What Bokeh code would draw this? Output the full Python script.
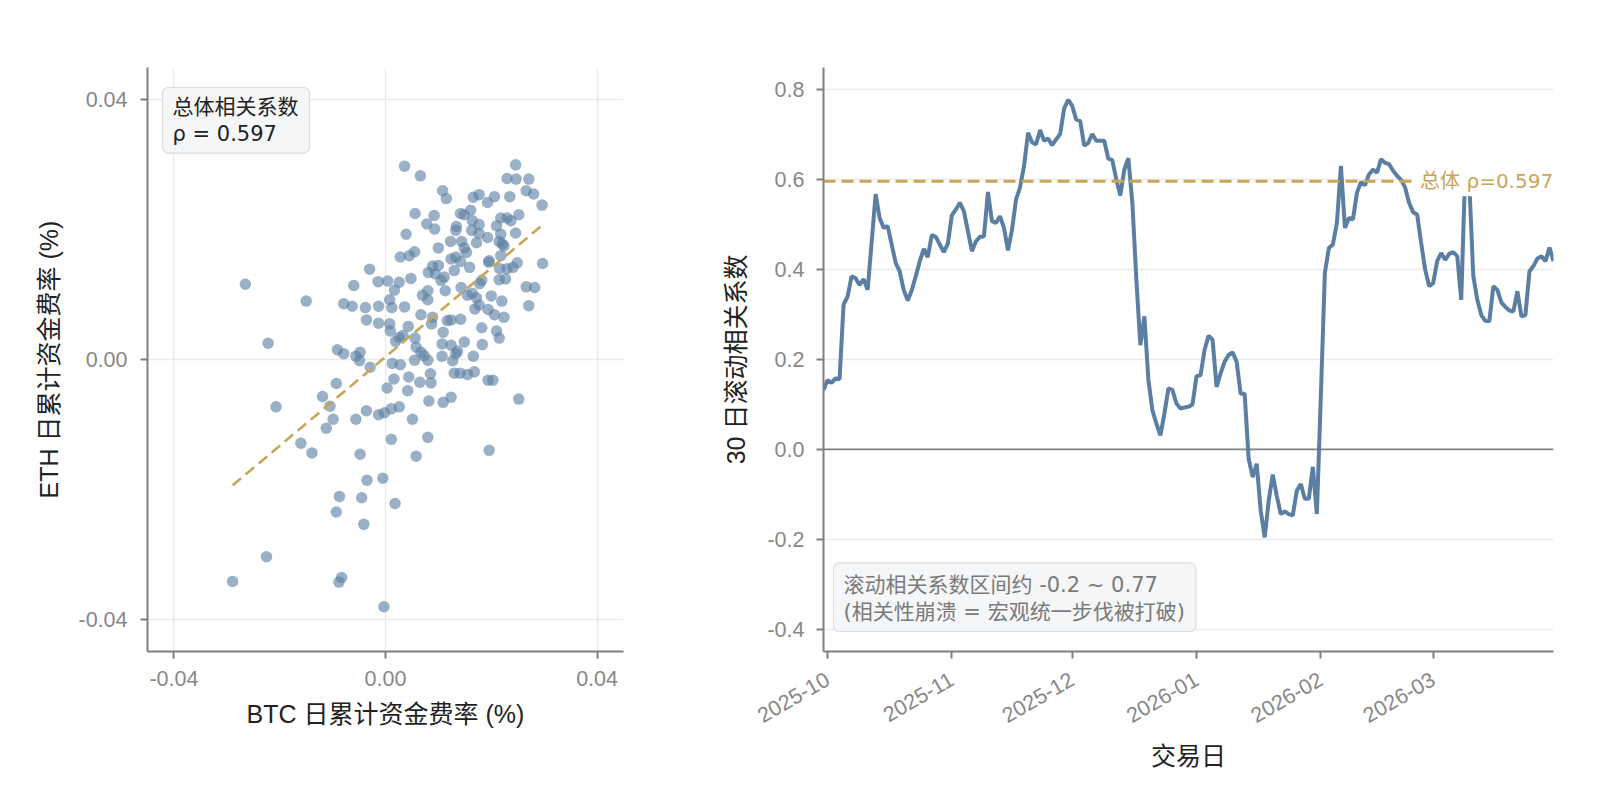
from math import pi

import pandas as pd
from bokeh.plotting import figure
from bokeh.layouts import row
from bokeh.models import (Range1d, FixedTicker, Label, MonthsTicker,
                          DatetimeTickFormatter, NumeralTickFormatter)
from bokeh.embed import file_html
from bokeh.resources import INLINE

AXIS_FONT = "Liberation Sans, Noto Sans CJK SC"
NOTE_FONT = "DejaVu Sans, Noto Sans CJK SC"
BLUE = "#5B7FA3"
GOLD = "#C9A557"
SPINE = "#7F7F7F"
GRID = "#EAEAEA"

# scatter: daily cumulative funding rate (%), BTC vs ETH
btc_rate = [
    0.0036, 0.0066, 0.0246, 0.0230, 0.0247, 0.0271, 0.0108, 0.0115, 0.0266, 0.0280,
    0.0296, 0.0166, 0.0177, 0.0206, 0.0193, 0.0235, 0.0056, 0.0092, 0.0078, 0.0093,
    0.0142, 0.0161, 0.0149, 0.0164, 0.0177, 0.0218, 0.0230, 0.0237, 0.0252, 0.0210,
    0.0134, 0.0133, 0.0163, 0.0177, 0.0193, 0.0218, 0.0246, 0.0039, 0.0123, 0.0144,
    0.0172, 0.0215, 0.0221, 0.0224, 0.0100, 0.0149, 0.0153, 0.0028, 0.0045, 0.0055,
    0.0124, 0.0133, 0.0142, 0.0196, 0.0218, 0.0297, 0.0249, 0.0241, 0.0230, -0.0030,
    0.0089, 0.0100, 0.0081, 0.0094, 0.0130, 0.0159, 0.0216, 0.0215, 0.0227, 0.0195,
    -0.0265, -0.0060, -0.0014, 0.0004, 0.0017, 0.0026, 0.0048, 0.0105, 0.0111, 0.0113,
    0.0143, 0.0178, 0.0182, 0.0266, 0.0282, 0.0271, -0.0150, -0.0079, -0.0063, -0.0038,
    -0.0013, 0.0008, 0.0012, 0.0036, 0.0070, 0.0080, 0.0080, 0.0155, 0.0164, 0.0172,
    0.0200, 0.0220, 0.0177, 0.0169, 0.0194, 0.0206, 0.0224, -0.0036, -0.0013, 0.0008,
    0.0009, 0.0043, 0.0067, 0.0089, 0.0087, 0.0124, 0.0142, 0.0117, 0.0109, 0.0182,
    0.0210, 0.0215, -0.0222, -0.0091, -0.0079, -0.0048, -0.0056, 0.0026, 0.0019, 0.0033,
    0.0056, 0.0058, 0.0067, 0.0073, 0.0107, 0.0124, 0.0136, 0.0149, 0.0183, 0.0166,
    0.0107, 0.0133,
    -0.0029, -0.0049, 0.0013, 0.0028, 0.0055, 0.0080, 0.0127, 0.0085, 0.0130, 0.0141,
    0.0155, 0.0168, 0.0194, 0.0203, 0.0044, 0.0016, 0.0065, 0.0086, -0.0093, 0.0003,
    0.0042, -0.0119, -0.0105, -0.0207, 0.0082, 0.0109, 0.0124, 0.0252, -0.0036, -0.0013,
    -0.0002, 0.0011, 0.0026, -0.0056, -0.0099, 0.0051, -0.0112, 0.0011, 0.0080, -0.0160,
    -0.0139, -0.0048, 0.0058, 0.0196, -0.0035, -0.0005, -0.0087, -0.0045, 0.0018, -0.0093,
    -0.0041, -0.0225, -0.0289, -0.0088, -0.0083, -0.0003,
]
eth_rate = [
    0.0298, 0.0283, 0.0300, 0.0279, 0.0278, 0.0278, 0.0260, 0.0248, 0.0260, 0.0255,
    0.0238, 0.0250, 0.0254, 0.0251, 0.0242, 0.0251, 0.0225, 0.0222, 0.0209, 0.0201,
    0.0225, 0.0230, 0.0223, 0.0214, 0.0208, 0.0218, 0.0218, 0.0214, 0.0223, 0.0206,
    0.0205, 0.0199, 0.0199, 0.0194, 0.0188, 0.0193, 0.0195, 0.0193, 0.0182, 0.0182,
    0.0180, 0.0182, 0.0178, 0.0175, 0.0172, 0.0172, 0.0165, 0.0158, 0.0160, 0.0166,
    0.0155, 0.0158, 0.0151, 0.0152, 0.0160, 0.0148, 0.0149, 0.0142, 0.0140, 0.0139,
    0.0144, 0.0145, 0.0134, 0.0132, 0.0137, 0.0142, 0.0140, 0.0123, 0.0124, 0.0150,
    0.0116, 0.0114, 0.0120, 0.0121, 0.0107, 0.0119, 0.0125, 0.0122, 0.0127, 0.0106,
    0.0111, 0.0117, 0.0122, 0.0112, 0.0111, 0.0083, 0.0090, 0.0086, 0.0082, 0.0080,
    0.0082, 0.0092, 0.0080, 0.0081, 0.0099, 0.0106, 0.0092, 0.0099, 0.0102, 0.0095,
    0.0098, 0.0090, 0.0084, 0.0078, 0.0077, 0.0069, 0.0065, 0.0061, 0.0056, 0.0055,
    0.0044, 0.0051, 0.0069, 0.0065, 0.0055, 0.0061, 0.0062, 0.0060, 0.0042, 0.0049,
    0.0044, 0.0033, 0.0025, 0.0015, 0.0009, 0.0011, 0.0005, 0.0034, 0.0028, 0.0037,
    0.0033, 0.0019, 0.0011, 0.0006, 0.0024, 0.0022, 0.0013, 0.0027, 0.0023, 0.0005,
    0.0005, 0.0009,
    -0.0012, -0.0002, -0.0006, -0.0008, -0.0001, -0.0001, -0.0002, -0.0022, -0.0021, -0.0021,
    -0.0023, -0.0019, -0.0032, -0.0032, -0.0027, -0.0030, -0.0035, -0.0036, -0.0037, -0.0044,
    -0.0048, -0.0057, -0.0072, -0.0073, -0.0064, -0.0066, -0.0058, -0.0061, -0.0079, -0.0085,
    -0.0082, -0.0076, -0.0073, -0.0092, -0.0092, -0.0092, -0.0106, -0.0123, -0.0120, -0.0129,
    -0.0144, -0.0146, -0.0149, -0.0140, -0.0186, -0.0183, -0.0211, -0.0213, -0.0222, -0.0235,
    -0.0254, -0.0304, -0.0342, -0.0343, -0.0336, -0.0381,
]
overall_rho = 0.597
fit_slope = 0.685
fit_intercept = 0.0004

# 30-day rolling correlation, daily from 2025-09-30
rolling_corr = [
    0.132, 0.154, 0.148, 0.158, 0.156, 0.322, 0.340, 0.385, 0.381, 0.366,
    0.379, 0.355, 0.460, 0.568, 0.515, 0.493, 0.497, 0.456, 0.415, 0.396,
    0.355, 0.331, 0.354, 0.385, 0.419, 0.446, 0.428, 0.477, 0.473, 0.456,
    0.439, 0.458, 0.521, 0.534, 0.549, 0.530, 0.486, 0.441, 0.463, 0.473,
    0.474, 0.573, 0.508, 0.504, 0.519, 0.493, 0.443, 0.489, 0.556, 0.583,
    0.631, 0.705, 0.683, 0.679, 0.711, 0.687, 0.692, 0.677, 0.690, 0.702,
    0.759, 0.778, 0.765, 0.734, 0.731, 0.676, 0.682, 0.702, 0.687, 0.687,
    0.687, 0.647, 0.644, 0.601, 0.565, 0.623, 0.648, 0.549, 0.378, 0.232,
    0.296, 0.155, 0.087, 0.057, 0.031, 0.080, 0.136, 0.132, 0.102, 0.091,
    0.093, 0.095, 0.100, 0.163, 0.165, 0.221, 0.253, 0.244, 0.139, 0.169,
    0.195, 0.210, 0.216, 0.195, 0.124, 0.124, -0.021, -0.062, -0.032, -0.136,
    -0.196, -0.114, -0.056, -0.103, -0.144, -0.138, -0.144, -0.147, -0.092, -0.077,
    -0.110, -0.110, -0.039, -0.144, 0.120, 0.393, 0.448, 0.456, 0.504, 0.631,
    0.493, 0.515, 0.512, 0.571, 0.595, 0.588, 0.612, 0.623, 0.616, 0.646,
    0.638, 0.635, 0.620, 0.609, 0.600, 0.583, 0.549, 0.528, 0.523, 0.460,
    0.400, 0.363, 0.370, 0.419, 0.437, 0.422, 0.435, 0.439, 0.430, 0.333,
    0.625, 0.595, 0.386, 0.333, 0.299, 0.286, 0.285, 0.363, 0.355, 0.327,
    0.317, 0.309, 0.307, 0.352, 0.296, 0.299, 0.396, 0.408, 0.425, 0.430,
    0.419, 0.449, 0.419,
]
dates = pd.date_range("2025-09-30", periods=len(rolling_corr), freq="D")

scatter_ticks = [-0.04, 0.0, 0.04]
corr_ticks = [-0.4, -0.2, 0.0, 0.2, 0.4, 0.6, 0.8]


def style_axes(p):
    p.outline_line_color = None
    p.background_fill_color = "white"
    p.border_fill_color = "white"
    for ax in (p.xaxis[0], p.yaxis[0]):
        ax.axis_line_color = SPINE
        ax.axis_line_width = 2
        ax.major_tick_line_color = SPINE
        ax.major_tick_line_width = 2
        ax.major_tick_out = 7
        ax.major_tick_in = 0
        ax.minor_tick_line_color = None
        ax.major_label_text_font = AXIS_FONT
        ax.major_label_text_font_size = "21.5px"
        ax.major_label_text_color = "#878787"
        ax.major_label_standoff = 12
        ax.axis_label_text_font = AXIS_FONT
        ax.axis_label_text_font_size = "25px"
        ax.axis_label_text_color = "#222222"
        ax.axis_label_text_font_style = "normal"


# ---- left: scatter ----
p1 = figure(frame_width=476, frame_height=584,
            x_range=Range1d(-0.045, 0.045), y_range=Range1d(-0.045, 0.045),
            min_border_left=147, min_border_top=67, min_border_right=60, min_border_bottom=120,
            output_backend="svg", toolbar_location=None,
            x_axis_label="BTC 日累计资金费率 (%)", y_axis_label="ETH 日累计资金费率 (%)")
style_axes(p1)
for ax in (p1.xaxis[0], p1.yaxis[0]):
    ax.ticker = FixedTicker(ticks=scatter_ticks)
    ax.formatter = NumeralTickFormatter(format="0.00")
p1.yaxis.major_label_standoff = 13
p1.xaxis.axis_label_standoff = 11
p1.yaxis.axis_label_standoff = 12
p1.xgrid.ticker = FixedTicker(ticks=scatter_ticks)
p1.ygrid.ticker = FixedTicker(ticks=scatter_ticks)
for g in (p1.xgrid[0], p1.ygrid[0]):
    g.grid_line_color = GRID
    g.grid_line_width = 1.3

p1.scatter(btc_rate, eth_rate, size=11.5, fill_color=BLUE, fill_alpha=0.62, line_color=None)

fit_x = [min(btc_rate), max(btc_rate)]
fit_y = [fit_slope * v + fit_intercept for v in fit_x]
p1.line(fit_x, fit_y, line_color=GOLD, line_width=2.6, line_dash="11 6")

p1.add_layout(Label(x=-0.045, y=0.045, x_offset=15, y_offset=-20, anchor="top_left",
                    text=f"总体相关系数\nρ = {overall_rho:.3f}",
                    text_font=NOTE_FONT, text_font_size="21px", text_color="#222222",
                    text_line_height=1.15,
                    background_fill_color="#F5F6F8", border_line_color="#D9DCE0",
                    border_line_width=1.2, padding=dict(left=10, right=11, top=7, bottom=7),
                    border_radius=6))

# ---- right: rolling correlation ----
p2 = figure(frame_width=730, frame_height=584, x_axis_type="datetime",
            x_range=Range1d(dates[0], dates[-1]), y_range=Range1d(-0.45, 0.85),
            min_border_left=140, min_border_top=67, min_border_right=30, min_border_bottom=120,
            output_backend="svg", toolbar_location=None,
            x_axis_label="交易日", y_axis_label="30 日滚动相关系数")
style_axes(p2)
p2.yaxis.ticker = FixedTicker(ticks=corr_ticks)
p2.yaxis.formatter = NumeralTickFormatter(format="0.0")
p2.xaxis.ticker = MonthsTicker(months=list(range(12)))
p2.xaxis.formatter = DatetimeTickFormatter(days="%Y-%m", months="%Y-%m", years="%Y-%m")
p2.xaxis.major_label_orientation = pi / 6
p2.xaxis.major_label_standoff = 19
p2.xaxis.axis_label_standoff = 9
p2.yaxis.axis_label_standoff = 14
p2.xgrid.grid_line_color = None
p2.ygrid.ticker = FixedTicker(ticks=[t for t in corr_ticks if t != 0.0])
p2.ygrid.grid_line_color = GRID
p2.ygrid.grid_line_width = 1.3

span_x = [dates[0], dates[-1]]
p2.line(span_x, [0, 0], line_color="#808080", line_width=1.8)
p2.line(dates, rolling_corr, line_color=BLUE, line_width=4)
p2.line(span_x, [overall_rho, overall_rho], line_color=GOLD, line_width=3, line_dash="12 6")

end_ms = dates[-1].timestamp() * 1000
start_ms = dates[0].timestamp() * 1000
p2.add_layout(Label(x=end_ms, y=overall_rho, x_offset=8, anchor="center_right",
                    text=f"总体  ρ={overall_rho:.3f}",
                    text_font=NOTE_FONT, text_font_size="20px", text_color=GOLD,
                    background_fill_color="white",
                    padding=dict(left=8, right=2, top=3, bottom=3)))
p2.add_layout(Label(x=start_ms, y=-0.45, x_offset=10, y_offset=20, anchor="bottom_left",
                    text="滚动相关系数区间约 -0.2 ~ 0.77\n(相关性崩溃 = 宏观统一步伐被打破)",
                    text_font=NOTE_FONT, text_font_size="21px", text_color="#7A7A7A",
                    text_line_height=1.15,
                    background_fill_color="#F5F6F8", border_line_color="#D9DCE0",
                    border_line_width=1.2, padding=dict(left=10, right=11, top=10, bottom=7),
                    border_radius=6))

layout = row(p1, p2)
open("out.html", "w").write(file_html(layout, INLINE))
